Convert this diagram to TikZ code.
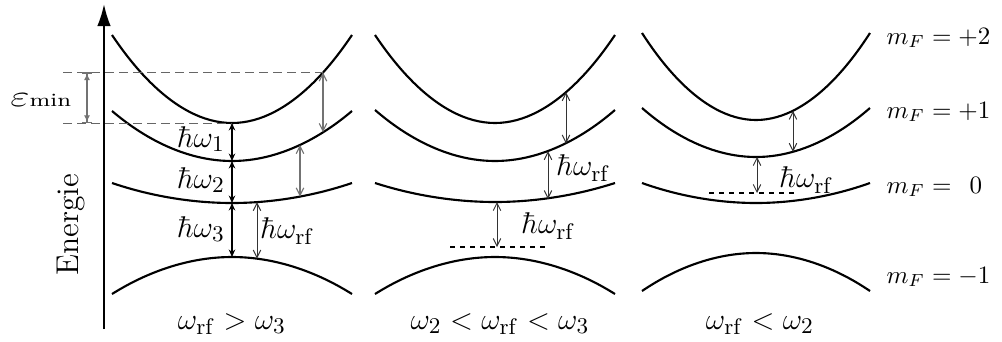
\documentclass[tikz,border=0pt]{standalone}
\usetikzlibrary{arrows.meta}
\begin{document}
\begin{tikzpicture}[x=0.4pt,y=-0.4pt,
  level/.style={line width=0.85pt},
  thinarr/.style={line width=0.4pt,draw=black!80,{Straight Barb[length=3pt,width=3pt]}-{Straight Barb[length=3pt,width=3pt]}},
  grayarr/.style={line width=0.45pt,draw=black!55,{Straight Barb[length=3pt,width=3pt]}-{Straight Barb[length=3pt,width=3pt]}},
  thickarr/.style={line width=0.7pt,{Stealth[length=3pt,width=2.6pt]}-{Stealth[length=3pt,width=2.6pt]}},
  longdash/.style={line width=0.4pt,draw=black!60,dash pattern=on 3.4pt off 2.2pt},
  shortdash/.style={line width=0.5pt,dash pattern=on 2pt off 2pt},
  lab/.style={inner sep=0pt,font=\fontsize{12.5}{14}\selectfont},
  mf/.style={inner sep=0pt,anchor=west,font=\fontsize{10.4}{12}\selectfont}]
\useasboundingbox (0,0) rectangle (1002,341);

% axis
\coordinate (ax0) at (104,329);
\coordinate (ax1) at (104,4);
\draw[line width=0.8pt,-{Latex[length=8.8pt,width=5.4pt]}] (ax0) -- (ax1);
\node[rotate=90,inner sep=0pt,font=\fontsize{12.6}{14}\selectfont] (energie) at (71,225) {Energie};

% panel 1 curves
\draw[level] (112,35) parabola bend (232,123) (352,35);
\draw[level] (112,111) parabola bend (232,161) (352,111);
\draw[level] (112,183) parabola bend (232,203) (352,183);
\draw[level] (112,294) parabola bend (232,257) (352,294);
% panel 2 curves
\draw[level] (375,35) parabola bend (495,123) (615,35);
\draw[level] (375,110) parabola bend (495,161) (615,110);
\draw[level] (375,183) parabola bend (495,202) (615,183);
\draw[level] (375,294) parabola bend (495,257) (615,294);
% panel 3 curves
\draw[level] (642,33) parabola bend (756,120) (870,33);
\draw[level] (642,108) parabola bend (756,157) (870,108);
\draw[level] (642,183) parabola bend (756,203) (870,183);
\draw[level] (642,291) parabola bend (756,253) (870,291);

% panel 1 dashed lines and epsilon
\coordinate (d1a) at (63,72.4);
\coordinate (d1b) at (323,72.4);
\coordinate (d2a) at (63,123);
\coordinate (d2b) at (232,123);
\draw[longdash] (d1a) -- (d1b);
\draw[longdash] (d2a) -- (d2b);
\coordinate (e1) at (87,72.4);
\coordinate (e2) at (87,123);
\draw[line width=0.45pt,draw=black!55,{Bar[width=4pt]Latex[length=2.6pt,width=2.4pt]}-{Latex[length=2.6pt,width=2.4pt]Bar[width=4pt]}] (e1) -- (e2);
\node[inner sep=0pt,anchor=base west] (emin) at (10,106.5)
  {\scalebox{1.4}[1]{\fontsize{12}{14}\selectfont$\varepsilon$}\scalebox{1.25}[1]{\fontsize{7.5}{9}\selectfont min}};

% panel 1 arrows
\coordinate (p1a) at (323,72.4);
\coordinate (p1b) at (323,132.2);
\draw[grayarr] (p1a) -- (p1b);
\coordinate (p1c) at (300,144.9);
\coordinate (p1d) at (300,196.6);
\draw[grayarr] (p1c) -- (p1d);
\coordinate (t0) at (232,123);
\coordinate (t1) at (232,161);
\coordinate (t2) at (232,203);
\coordinate (t3) at (232,257);
\draw[thickarr] (t0) -- (t1);
\draw[thickarr] (t1) -- (t2);
\draw[thickarr] (t2) -- (t3);
\node[lab] (w1) at (201,139) {$\hbar\omega_1$};
\node[lab] (w2) at (201,180) {$\hbar\omega_2$};
\node[lab] (w3) at (201,229) {$\hbar\omega_3$};
\coordinate (r1) at (257,202.1);
\coordinate (r2) at (257,258.6);
\draw[thinarr] (r1) -- (r2);
\node[lab,anchor=west] (wrf1) at (260,231) {$\hbar\omega_{\mathrm{rf}}$};

% panel 2 arrows
\coordinate (q1) at (566,92.2);
\coordinate (q2) at (566,143.5);
\draw[thinarr] (q1) -- (q2);
\coordinate (q3) at (548,151.2);
\coordinate (q4) at (548,199.1);
\draw[thinarr] (q3) -- (q4);
\node[lab,anchor=west] (wrf2) at (556,168) {$\hbar\omega_{\mathrm{rf}}$};
\coordinate (q5) at (497,202);
\coordinate (q6) at (497,247);
\draw[thinarr] (q5) -- (q6);
\coordinate (qd1) at (450,247);
\coordinate (qd2) at (545,247);
\draw[shortdash] (qd1) -- (qd2);
\node[lab,anchor=west] (wrf3) at (521,226) {$\hbar\omega_{\mathrm{rf}}$};

% panel 3 arrows
\coordinate (s1) at (793,110.8);
\coordinate (s2) at (793,151.8);
\draw[thinarr] (s1) -- (s2);
\coordinate (s3) at (757,157);
\coordinate (s4) at (757,193);
\draw[thinarr] (s3) -- (s4);
\coordinate (sd1) at (709,193);
\coordinate (sd2) at (794,193);
\draw[shortdash] (sd1) -- (sd2);
\node[lab,anchor=west] (wrf4) at (779,180) {$\hbar\omega_{\mathrm{rf}}$};

% m_F labels
\node[mf] (m2) at (886,38) {$m_F = +2$};
\node[mf] (m1) at (886,112) {$m_F = +1$};
\node[mf] (m0) at (886,187) {$m_F = \kern4.5pt 0$};
\node[mf] (mm1) at (886,277) {$m_F = -1$};

% bottom labels
\node[lab,anchor=base] (c1) at (232,329) {$\omega_{\mathrm{rf}} > \omega_3$};
\node[lab,anchor=base] (c2) at (500,329) {$\omega_2 < \omega_{\mathrm{rf}} < \omega_3$};
\node[lab,anchor=base] (c3) at (760,329) {$\omega_{\mathrm{rf}} < \omega_2$};
\end{tikzpicture}
\end{document}
